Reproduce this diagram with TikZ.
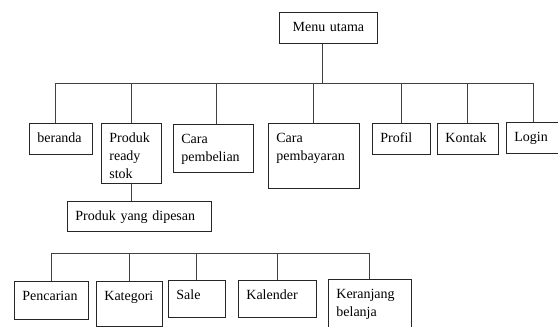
\documentclass[tikz,border=0pt]{standalone}
\usepackage{fontspec}
\setmainfont{Liberation Serif}
\usepackage{tikz}

\begin{document}
\begin{tikzpicture}[x=1pt,y=-1pt,
	kotak/.style 2 args={draw=black!85, line width=0.8pt, anchor=north west, align=left,
		inner xsep=8pt, inner ysep=4pt, text width=#1, text height=15pt, text depth=#2,
		font=\fontsize{14}{18}\selectfont},
	garis/.style={draw=black!75, line width=0.9pt}]
	%\draw[help lines, thick] (0,0) grid[step=50] (558,327);
	\useasboundingbox (0,0) rectangle (558,327);
	\node[kotak={82pt}{8pt}, align=center] (menu) at (279,12) {Menu utama};
	\node[kotak={47pt}{8pt}] (beranda) at (29,123) {beranda};
	\node[kotak={44pt}{37pt}] (produkready) at (101,123) {Produk\\ready\\stok};
	\node[kotak={64pt}{25pt}] (carabeli) at (173,124) {Cara\\pembelian};
	\node[kotak={75pt}{42pt}] (carabayar) at (268,123) {Cara\\pembayaran};
	\node[kotak={42pt}{8pt}] (profil) at (372,123) {Profil};
	\node[kotak={45pt}{8pt}] (kontak) at (437,123) {Kontak};
	\node[kotak={38pt}{8pt}] (login) at (506,122) {Login};
	\node[kotak={128pt}{7pt}] (dipesan) at (67,201) {Produk yang dipesan};
	\node[kotak={58pt}{15pt}] (pencarian) at (14,281) {Pencarian};
	\node[kotak={50pt}{22pt}] (kategori) at (96,281) {Kategori};
	\node[kotak={41pt}{14pt}] (sale) at (168,280) {Sale};
	\node[kotak={62pt}{14pt}] (kalender) at (238,280) {Kalender};
	\node[kotak={67pt}{32pt}] (keranjang) at (328,279) {Keranjang\\belanja};
	\coordinate (bus1) at (0,83);
	\coordinate (bus2) at (0,253);
	% menu utama ke baris pertama
	\draw[garis] ([xshift=-6pt]menu.south) -- ([xshift=-6pt]menu.south |- bus1);
	\draw[garis] ([xshift=-5pt]beranda.north) |- (login.north |- bus1) -- (login.north);
	\foreach \n in {produkready, carabayar, profil, kontak}
		\draw[garis] (\n.north) -- (\n.north |- bus1);
	\draw[garis] ([xshift=3pt]carabeli.north) -- ([xshift=3pt]carabeli.north |- bus1);
	\draw[garis] (produkready.south) -- (produkready.south |- dipesan.north);
	% baris bawah
	\draw[garis] (pencarian.north) |- (keranjang.north |- bus2) -- (keranjang.north);
	\foreach \n in {kategori, sale, kalender}
		\draw[garis] (\n.north) -- (\n.north |- bus2);
\end{tikzpicture}
\end{document}
